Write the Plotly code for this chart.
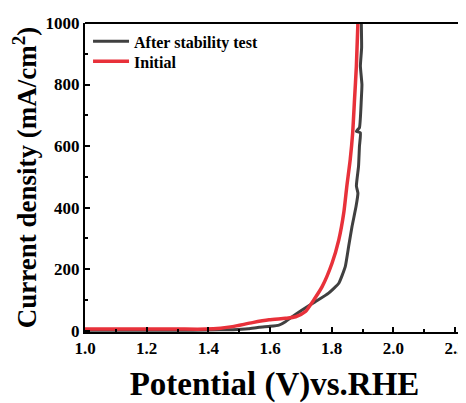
import plotly.graph_objects as go

# After stability test (black)
after_v = [1.00, 1.10, 1.20, 1.30, 1.40, 1.48, 1.53, 1.565, 1.60, 1.629, 1.65, 1.672, 1.704,
           1.747, 1.790, 1.823, 1.844, 1.855, 1.866, 1.879, 1.885, 1.880, 1.887, 1.890,
           1.893, 1.880, 1.890, 1.896, 1.898, 1.893, 1.897, 1.896]
after_j = [1, 1, 1, 1, 2, 3, 6, 11, 14, 18, 29, 45, 67,
           94, 122, 154, 208, 274, 339, 404, 447, 470, 534, 600,
           643, 648, 660, 751, 800, 860, 920, 1000]

# Initial (red)
init_v = [1.00, 1.10, 1.20, 1.30, 1.392, 1.44, 1.478, 1.543, 1.597, 1.65, 1.683, 1.715,
          1.742, 1.769, 1.801, 1.823, 1.839, 1.849, 1.860, 1.868, 1.874, 1.880, 1.885]
init_j = [5, 5, 5, 5, 5, 8, 13, 26, 35, 40, 45, 62,
          100, 143, 219, 295, 382, 469, 556, 643, 751, 860, 1000]

x_ticks = [1.0, 1.2, 1.4, 1.6, 1.8, 2.0, 2.2]
y_ticks = [0, 200, 400, 600, 800, 1000]

serif = "Liberation Serif, Times New Roman, serif"
legend_font = dict(family=serif, size=16, color="black", weight="bold")

fig = go.Figure()
fig.add_trace(go.Scatter(x=after_v, y=after_j, mode="lines", name="After stability test",
                         legend="legend",
                         line=dict(color="#404040", width=3, shape="spline", smoothing=0.4)))
fig.add_trace(go.Scatter(x=init_v, y=init_j, mode="lines", name="Initial",
                         legend="legend2",
                         line=dict(color="#e8313a", width=3.5, shape="spline", smoothing=0.6)))

fig.update_layout(
    width=458, height=395,
    margin=dict(l=77, r=0, t=15, b=71),
    paper_bgcolor="white", plot_bgcolor="white",
    showlegend=True,
    legend=dict(x=0.008, y=0.9955, xanchor="left", yanchor="top",
                bgcolor="rgba(0,0,0,0)", borderwidth=0, font=legend_font, itemwidth=36),
    legend2=dict(x=0.008, y=0.9307, xanchor="left", yanchor="top",
                 bgcolor="rgba(0,0,0,0)", borderwidth=0, font=legend_font, itemwidth=36),
    xaxis=dict(range=[1.0, 2.229], tickvals=x_ticks, ticktext=[f"{v:.1f}" for v in x_ticks],
               ticklabeloverflow="allow",
               showgrid=False, zeroline=False, showline=True, linecolor="black", linewidth=2,
               ticks="inside", ticklen=5, tickwidth=2, tickcolor="black",
               minor=dict(ticks="inside", ticklen=3, tickwidth=2, tickcolor="black", dtick=0.1, showgrid=False),
               tickfont=dict(family=serif, size=17, color="black", weight="bold"),
               title=dict(text="Potential (V)vs.RHE", standoff=16,
                          font=dict(family=serif, size=33, color="black", weight="bold"))),
    yaxis=dict(range=[-4.5, 1000], tickvals=y_ticks,
               showgrid=False, zeroline=False, showline=True, linecolor="black", linewidth=2,
               ticks="inside", ticklen=5, tickwidth=2, tickcolor="black",
               minor=dict(ticks="inside", ticklen=3, tickwidth=2, tickcolor="black", dtick=100, showgrid=False),
               tickfont=dict(family=serif, size=17, color="black", weight="bold"),
               title=dict(text="Current density (mA/cm<sup>2</sup>)", standoff=9,
                          font=dict(family=serif, size=27, color="black", weight="bold"))),
    shapes=[dict(type="line", xref="paper", yref="paper", x0=0, x1=1, y0=1, y1=1,
                 line=dict(color="black", width=2))],
)

fig.write_html("out.html")
